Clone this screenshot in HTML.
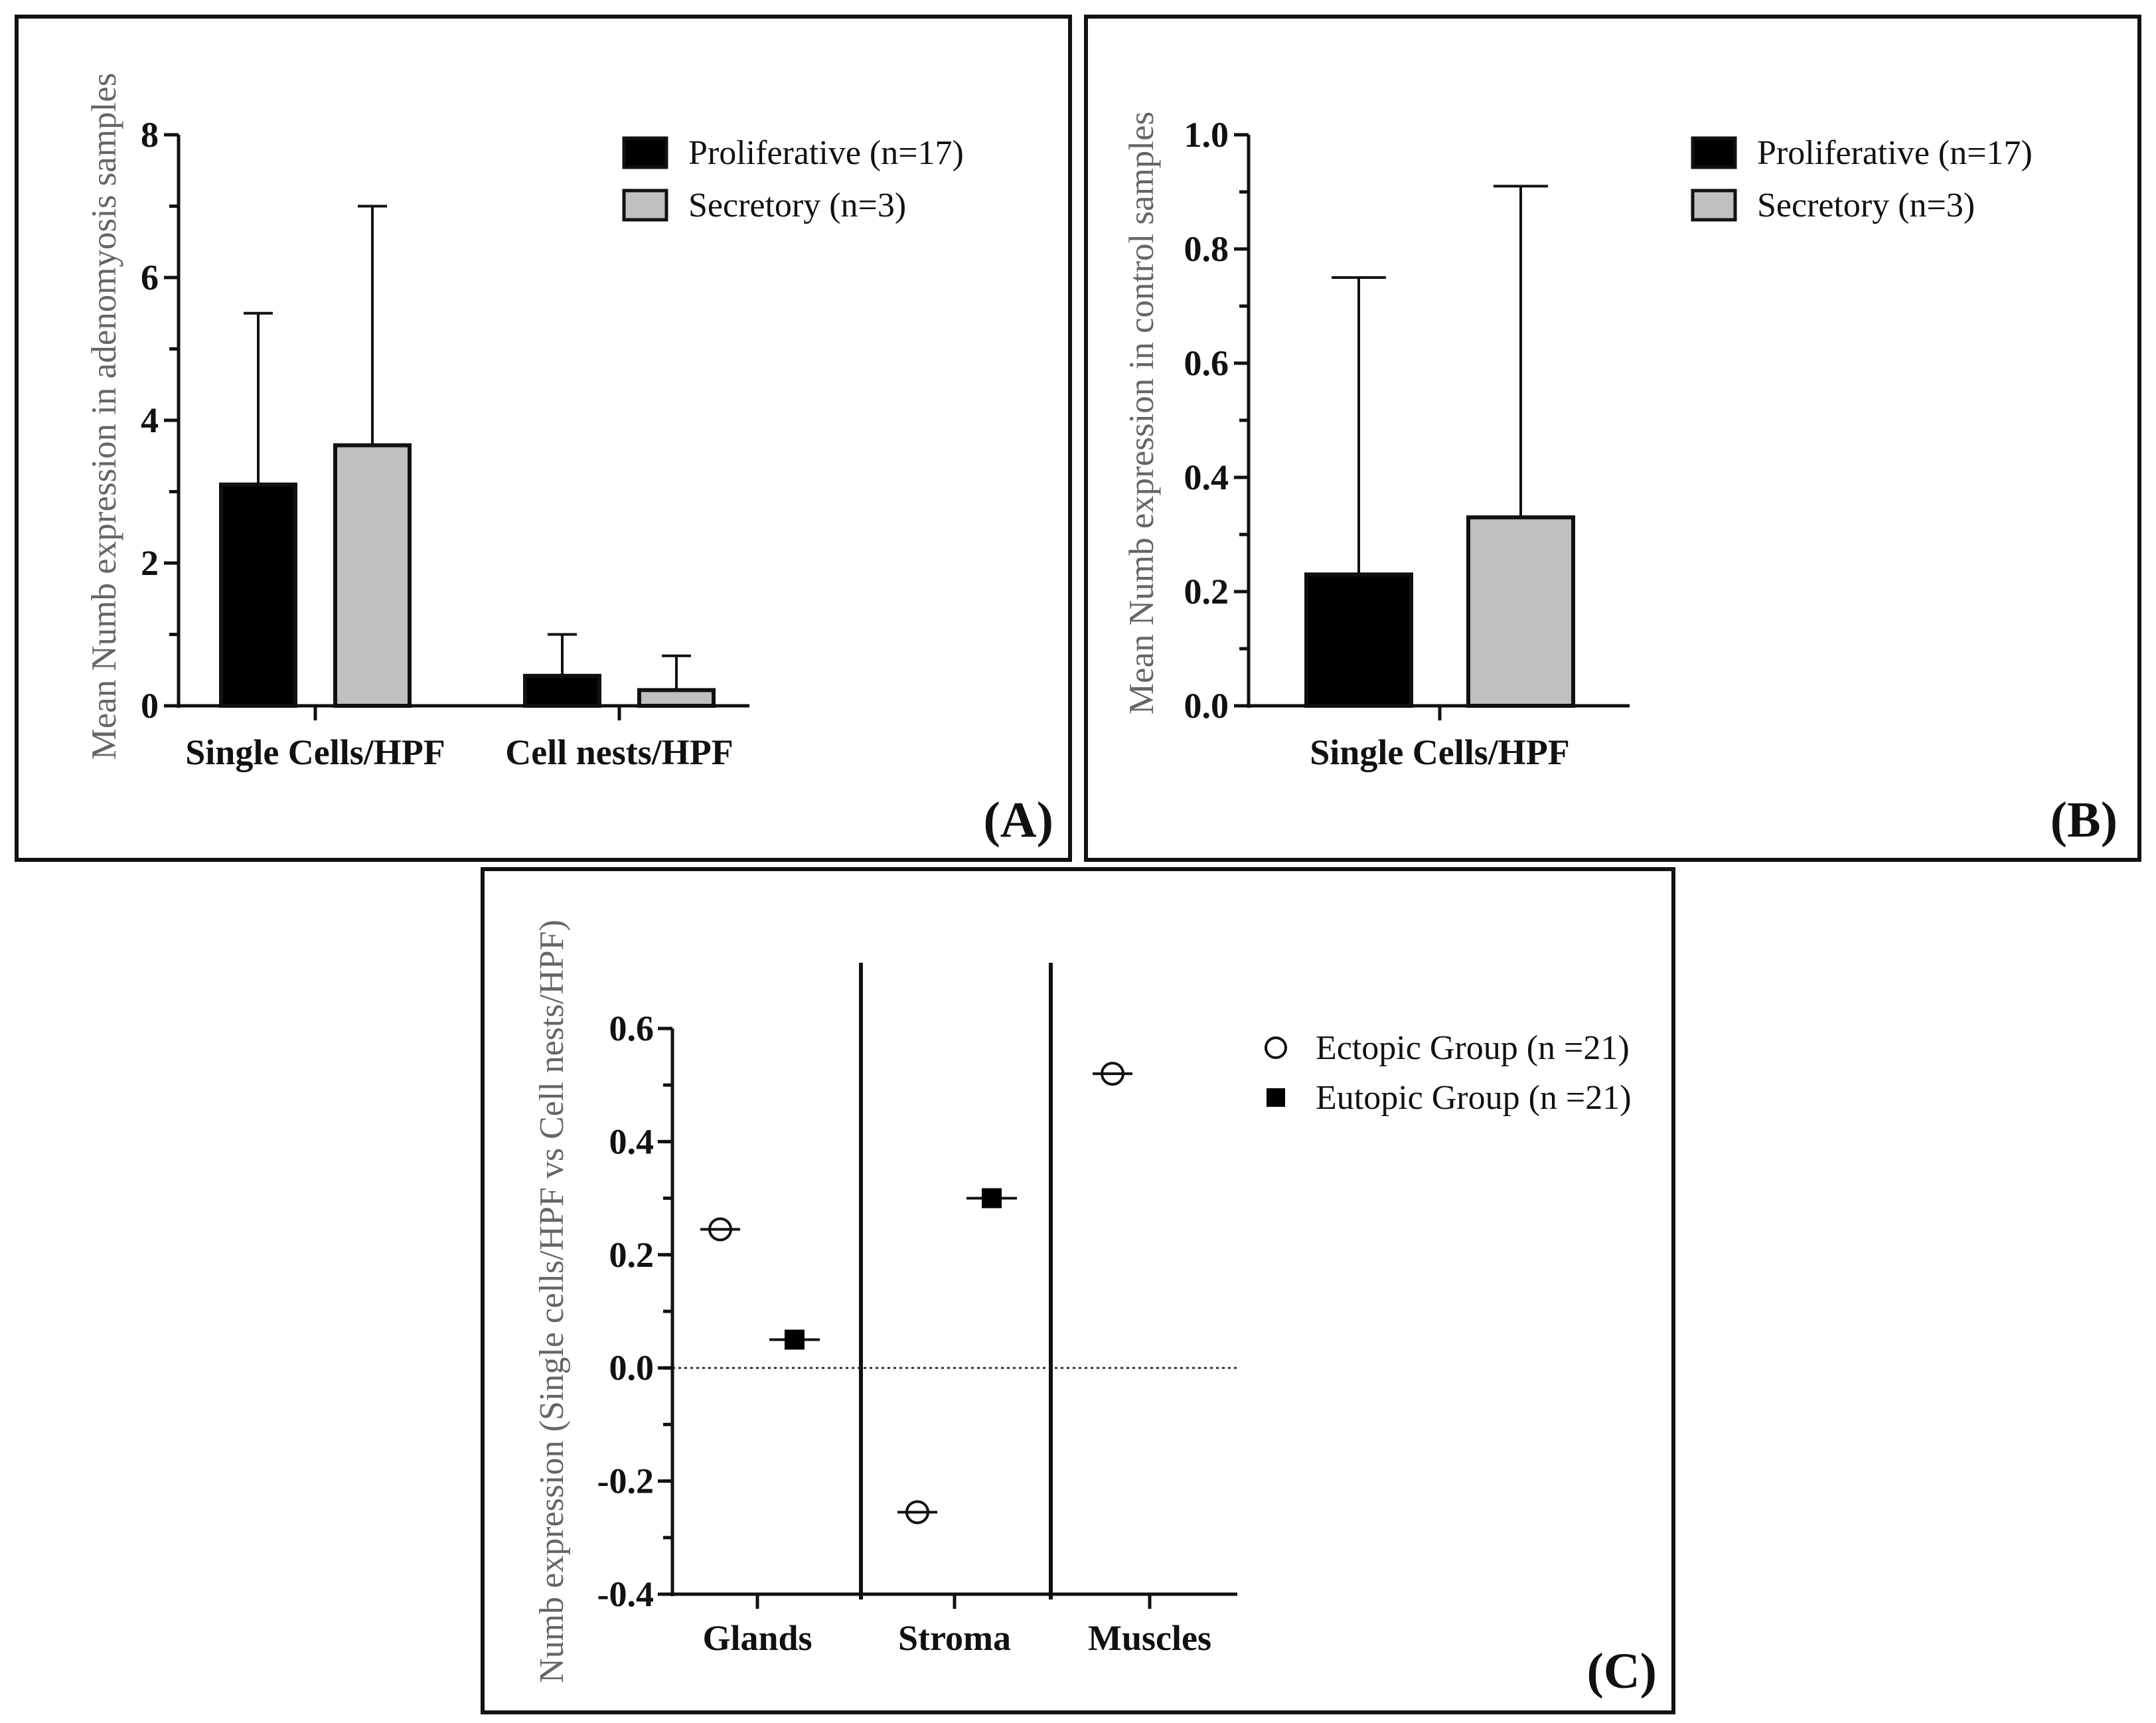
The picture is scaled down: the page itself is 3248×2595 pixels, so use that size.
<!DOCTYPE html>
<html><head><meta charset="utf-8"><style>
html,body{margin:0;padding:0;background:#fff}
svg{display:block;font-family:"Liberation Serif",serif}
</style></head><body>
<svg id="fig" width="3248" height="2595" viewBox="0 0 3248 2595" xmlns="http://www.w3.org/2000/svg">
<rect x="25" y="25" width="1587" height="1270" fill="none" stroke="#111" stroke-width="6"/>
<rect x="1636" y="25" width="1587" height="1270" fill="none" stroke="#111" stroke-width="6"/>
<rect x="727" y="1309" width="1794" height="1270" fill="none" stroke="#111" stroke-width="6"/>
<g id="A"></g>
<g id="B"></g>
<g id="C"></g>
</svg>
<script>
// Panel A data
const aCategories = ["Single Cells/HPF", "Cell nests/HPF"];
const aProliferative = [3.1, 0.42];
const aProliferativeErr = [5.5, 1.0];
const aSecretory = [3.65, 0.22];
const aSecretoryErr = [7.0, 0.7];
const aTicks = [0, 2, 4, 6, 8];
// Panel B data
const bCategories = ["Single Cells/HPF"];
const bProliferative = [0.23];
const bProliferativeErr = [0.75];
const bSecretory = [0.33];
const bSecretoryErr = [0.91];
const bTicks = ["0.0", "0.2", "0.4", "0.6", "0.8", "1.0"];
// Panel C data
const cCategories = ["Glands", "Stroma", "Muscles"];
const cEctopic = [0.245, -0.255, 0.52];
const cEutopic = [0.05, 0.30, null];
const cTicks = ["-0.4", "-0.2", "0.0", "0.2", "0.4", "0.6"];

const NS = "http://www.w3.org/2000/svg";
function mk(parent, tag, attrs, text) {
  const e = document.createElementNS(NS, tag);
  for (const k in attrs) e.setAttribute(k, attrs[k]);
  if (text !== undefined) e.textContent = text;
  parent.appendChild(e);
  return e;
}
const gA = document.getElementById("A"), gB = document.getElementById("B"), gC = document.getElementById("C");

function barPanel(g, o) {
  const y = v => o.y0 + (v - o.min) / (o.max - o.min) * (o.y1 - o.y0);
  const ticks = o.ticks.map(Number);
  for (let v = o.min; v <= o.max + 1e-9; v += o.minor) {
    const t = mk(g, "line", {x1: o.ax - 14, x2: o.ax, y1: y(v), y2: y(v), stroke: "#111", "stroke-width": 5});
    
    
  }
  ticks.forEach((v, i) => {
    const t = mk(g, "line", {x1: o.ax - 22, x2: o.ax, y1: y(v), y2: y(v), stroke: "#111", "stroke-width": 5});
    
    
    const l = mk(g, "text", {x: o.ax - 30, y: y(v) + 18, "text-anchor": "end", "font-size": 54, "font-weight": "bold", fill: "#111"}, o.ticks[i]);
    
    
  });
  o.cats.forEach((c, i) => {
    const cx = o.catX[i];
    const series = [[o.p, o.pe, "#000", cx - o.off], [o.s, o.se, "#c0c0c0", cx + o.off]];
    series.forEach(([vals, errs, fill, bx], si) => {
      const e = mk(g, "line", {x1: bx, x2: bx, y1: y(vals[i]), y2: y(errs[i]), stroke: "#111", "stroke-width": 4});
      
      
      const cap = mk(g, "line", {x1: bx - o.cap, x2: bx + o.cap, y1: y(errs[i]), y2: y(errs[i]), stroke: "#111", "stroke-width": 4});
      
      
      const r = mk(g, "rect", {x: bx - o.bw / 2, y: y(vals[i]), width: o.bw, height: o.y0 - y(vals[i]), fill: fill, stroke: "#111", "stroke-width": 6});
      
      
    });
    const t = mk(g, "line", {x1: cx, x2: cx, y1: o.y0, y2: o.y0 + 22, stroke: "#111", "stroke-width": 5});
    
    
    const l = mk(g, "text", {x: cx, y: o.y0 + 88, "text-anchor": "middle", "font-size": 54, "font-weight": "bold", fill: "#111"}, c);
    
    
  });
  const ya = mk(g, "line", {x1: o.ax, x2: o.ax, y1: o.y0 + 3, y2: o.y1, stroke: "#111", "stroke-width": 5});
  
  
  const xa = mk(g, "line", {x1: o.ax, x2: o.xe, y1: o.y0, y2: o.y0, stroke: "#111", "stroke-width": 5});
  
  
  const tt = mk(g, "text", {x: 0, y: 0, transform: `translate(${o.tx},${o.tcy}) rotate(-90)`, "text-anchor": "middle", "font-size": o.tfs, fill: "#666"}, o.title);
  
  
  [["#000", "Proliferative (n=17)", 230], ["#c0c0c0", "Secretory (n=3)", 309]].forEach(([f, txt, ly], i) => {
    const s = mk(g, "rect", {x: o.lx, y: ly - 22, width: 64, height: 44, fill: f, stroke: "#111", "stroke-width": 5});
    
    
    const lt = mk(g, "text", {x: o.lx + 97, y: ly + 17, "font-size": 52, fill: "#111"}, txt);
    
    
  });
  const pl = mk(g, "text", {x: o.plx, y: 1260, "text-anchor": "end", "font-size": 76, "font-weight": "bold", fill: "#111"}, o.label);
  
  
}

barPanel(gA, {y0: 1063, y1: 203, min: 0, max: 8, minor: 1, ticks: aTicks.map(String), ax: 269, xe: 1129,
  cats: aCategories, catX: [475, 933], off: 86, bw: 112, cap: 22, p: aProliferative, pe: aProliferativeErr, s: aSecretory, se: aSecretoryErr,
  tx: 174, tcy: 627, tfs: 53, title: "Mean Numb expression in adenomyosis samples", lx: 940, plx: 1587, label: "(A)"});
barPanel(gB, {y0: 1063, y1: 203, min: 0, max: 1, minor: 0.1, ticks: bTicks, ax: 1881, xe: 2455,
  cats: bCategories, catX: [2169], off: 122, bw: 158, cap: 41, p: bProliferative, pe: bProliferativeErr, s: bSecretory, se: bSecretoryErr,
  tx: 1737, tcy: 622, tfs: 53, title: "Mean Numb expression in control samples", lx: 2550, plx: 3190, label: "(B)"});

// Panel C
(function () {
  const g = gC;
  const y0 = 2401, y1 = 1549, min = -0.4, max = 0.6, ax = 1013, xe = 1864;
  const y = v => y0 + (v - min) / (max - min) * (y1 - y0);
  const catX = [1141, 1438, 1732], off = 56;
  for (let i = 0; i <= 10; i++) {
    const v = min + i * 0.1;
    const t = mk(g, "line", {x1: ax - 14, x2: ax, y1: y(v), y2: y(v), stroke: "#111", "stroke-width": 5});
    
    
  }
  cTicks.forEach(s => {
    const v = Number(s);
    const t = mk(g, "line", {x1: ax - 22, x2: ax, y1: y(v), y2: y(v), stroke: "#111", "stroke-width": 5});
    
    
    const l = mk(g, "text", {x: ax - 28, y: y(v) + 18, "text-anchor": "end", "font-size": 54, "font-weight": "bold", fill: "#111"}, s);
    
    
  });
  const zl = mk(g, "line", {x1: ax, x2: xe, y1: y(0), y2: y(0), stroke: "#333", "stroke-width": 3, "stroke-dasharray": "4 5"});
  
  
  [1297, 1583].forEach(sx => {
    const s = mk(g, "line", {x1: sx, x2: sx, y1: 1450, y2: 2409, stroke: "#111", "stroke-width": 6});
    
    
  });
  cCategories.forEach((c, i) => {
    const cx = catX[i];
    const t = mk(g, "line", {x1: cx, x2: cx, y1: y0, y2: y0 + 22, stroke: "#111", "stroke-width": 5});
    
    
    const l = mk(g, "text", {x: cx, y: y0 + 84, "text-anchor": "middle", "font-size": 54, "font-weight": "bold", fill: "#111"}, c);
    
    
    if (cEctopic[i] !== null) {
      const px = cx - off, py = y(cEctopic[i]);
      const m = mk(g, "line", {x1: px - 30, x2: px + 30, y1: py, y2: py, stroke: "#111", "stroke-width": 4});
      
      
      const p = mk(g, "circle", {cx: px, cy: py, r: 16, fill: "none", stroke: "#111", "stroke-width": 4});
      
      
    }
    if (cEutopic[i] !== null) {
      const px = cx + off, py = y(cEutopic[i]);
      const m = mk(g, "line", {x1: px - 38, x2: px + 38, y1: py, y2: py, stroke: "#111", "stroke-width": 4});
      
      
      const p = mk(g, "rect", {x: px - 15, y: py - 15, width: 30, height: 30, fill: "#000"});
      
      
    }
  });
  const ya = mk(g, "line", {x1: ax, x2: ax, y1: y0 + 3, y2: y1, stroke: "#111", "stroke-width": 5});
  
  
  const xa = mk(g, "line", {x1: ax, x2: xe, y1: y0, y2: y0, stroke: "#111", "stroke-width": 5});
  
  
  const tt = mk(g, "text", {x: 0, y: 0, transform: "translate(848,1960) rotate(-90)", "text-anchor": "middle", "font-size": 52, fill: "#666"}, "Numb expression (Single cells/HPF vs Cell nests/HPF)");
  
  
  const lc = mk(g, "circle", {cx: 1922, cy: 1578, r: 15, fill: "none", stroke: "#111", "stroke-width": 4});
  
  
  const lt1 = mk(g, "text", {x: 1982, y: 1595, "font-size": 52, fill: "#111"}, "Ectopic Group (n =21)");
  
  
  const ls = mk(g, "rect", {x: 1908, y: 1639, width: 28, height: 28, fill: "#000"});
  
  
  const lt2 = mk(g, "text", {x: 1982, y: 1670, "font-size": 52, fill: "#111"}, "Eutopic Group (n =21)");
  
  
  const pl = mk(g, "text", {x: 2496, y: 2542, "text-anchor": "end", "font-size": 76, "font-weight": "bold", fill: "#111"}, "(C)");
  
  
})();
</script>
</body></html>
